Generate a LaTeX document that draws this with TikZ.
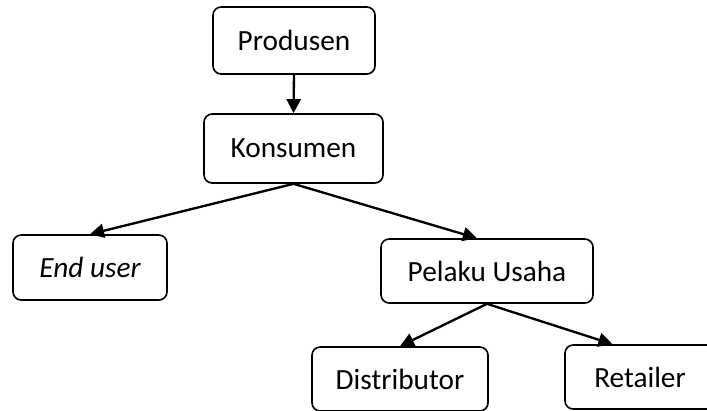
\documentclass[tikz,border=0pt]{standalone}
\usepackage{fontspec}
\setmainfont{Carlito}
\usetikzlibrary{arrows.meta}

\begin{document}
\begin{tikzpicture}[
    x=0.03cm, y=-0.03cm,
    box/.style={draw, rounded corners=7pt, line width=1.4pt, align=center,
      font=\fontsize{25}{29}\selectfont, inner sep=0pt},
    arr/.style={-{Triangle[length=12pt,width=12pt]}, line width=2pt}
  ]
    \path[use as bounding box, clip] (0,0) rectangle (707,410);
    \node[box, minimum width=4.86cm, minimum height=2.01cm] (produsen) at (294,40.5) {Produsen};
    \node[box, minimum width=5.37cm, minimum height=2.07cm] (konsumen) at (293.5,148.5) {Konsumen};
    \node[box, minimum width=4.62cm, minimum height=1.95cm] (enduser) at (90,267.5) {\itshape End user};
    \node[box, minimum width=6.36cm, minimum height=1.92cm] (pelaku) at (487,271) {Pelaku Usaha};
    \node[box, minimum width=5.28cm, minimum height=1.92cm] (distributor) at (400,379) {Distributor};
    \node[box, minimum width=4.50cm, minimum height=1.92cm] (retailer) at (640,377) {Retailer};
    \draw[arr] (produsen.south) -- (konsumen.north);
    \draw[arr] (konsumen.south) -- (enduser.north);
    \draw[arr] (konsumen.south) -- (pelaku.107);
    \draw[arr] (pelaku.south) -- (distributor.north);
    \draw[arr] (pelaku.south) -- (retailer.130);
  \end{tikzpicture}
\end{document}
